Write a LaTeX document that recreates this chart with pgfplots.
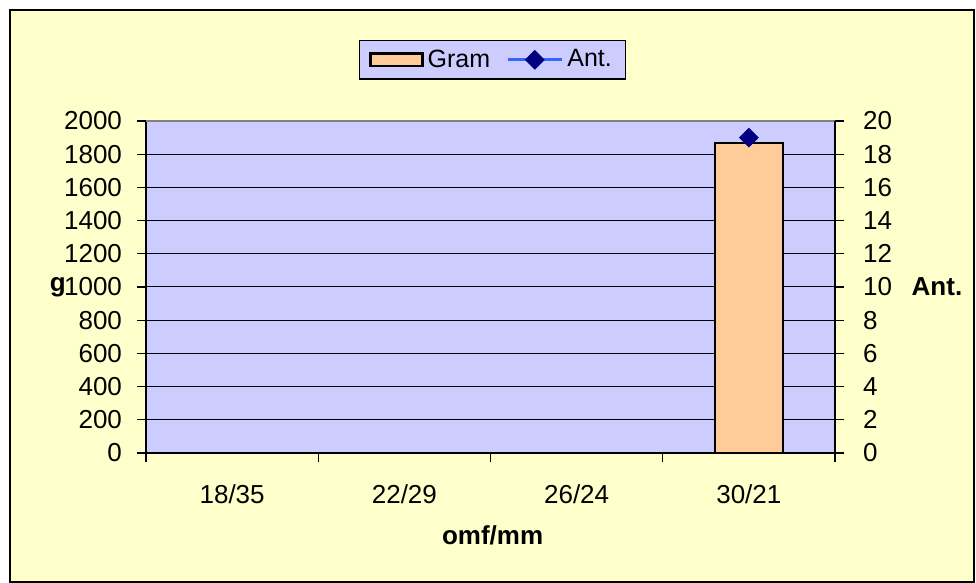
\documentclass[border=0pt]{standalone}
\usepackage{pgfplots}
\pgfplotsset{compat=1.18}
\usepackage{fontspec}
\setmainfont{Liberation Sans}
\definecolor{bgyel}{HTML}{FFFFCC}
\definecolor{plotbg}{HTML}{CCCCFF}
\definecolor{barfill}{HTML}{FFCC99}
\definecolor{navyc}{HTML}{000080}
\definecolor{lineblue}{HTML}{3366FF}
\pgfplotsset{
  barleg/.style={legend image code/.code={\draw[##1] (0pt,-3.2pt) rectangle (26pt,3.2pt);}},
  lineleg/.style={legend image code/.code={%
    \draw[lineblue, line width=1.6pt] (0pt,0pt) -- (27pt,0pt);
    \draw[##1, line width=0.4pt] plot coordinates {(13.5pt,0pt)};}},
}
\begin{document}
\begin{tikzpicture}
\fill[white] (0pt,0pt) rectangle (488pt,291.5pt);
\draw[fill=bgyel, line width=1pt] (5pt,0.5pt) rectangle (487pt,286.5pt);
\pgfplotsset{
  common/.style={
    at={(73pt,65pt)}, anchor=south west, scale only axis,
    width=344.5pt, height=166pt,
    xmin=-0.5, xmax=3.5,
    tick align=outside,
    major tick length=4.5pt,
    tick style={black, line width=0.6pt},
    /pgf/number format/assume math mode=true,
    /pgf/number format/1000 sep={},
    tick label style={font=\fontsize{13}{15}\selectfont},
    label style={font=\fontsize{13}{15}\selectfont\bfseries},
  }
}
\begin{axis}[common,
  name=main,
  ymin=0, ymax=2000, ytick={0,200,...,2000},
  yticklabel style={xshift=-4pt},
  xtick={-0.5,0.5,1.5,2.5,3.5},
  xticklabels={18/35,22/29,26/24,30/21},
  x tick label as interval,
  xticklabel style={yshift=-8pt},
  xlabel={omf/mm},
  xlabel style={at={(axis description cs:0.503,-0.247)}, anchor=center},
  ylabel={g},
  ylabel style={at={(axis description cs:-0.128,0.5)}, anchor=center, rotate=-90},
  axis background/.style={fill=plotbg},
  ymajorgrids, grid style={black, line width=0.5pt},
  axis x line*=bottom, axis y line*=left,
  axis line style={black, line width=0.8pt},
  ybar, bar width=34pt,
]
\addplot[fill=barfill, draw=black, line width=1.2pt] coordinates {(3,1867)};
\draw[gray, line width=0.8pt] (rel axis cs:0,1) -- (rel axis cs:1,1);
\end{axis}
\begin{axis}[common,
  ymin=0, ymax=20, ytick={0,2,...,20},
  yticklabel style={xshift=6pt},
  axis x line=none, axis y line*=right,
  axis line style={black, line width=0.8pt},
  ylabel={Ant.},
  ylabel style={at={(axis description cs:1.148,0.5)}, anchor=center, rotate=-90},
  legend style={at={(axis description cs:0.503,1.244)}, anchor=north,
    fill=plotbg, draw=black, line width=0.6pt, legend columns=2,
    font=\fontsize{12.5}{14}\selectfont,
    inner xsep=5pt, inner ysep=2.5pt,
    /tikz/every even column/.append style={column sep=6pt}},
]
\addlegendimage{barleg, fill=barfill, draw=black, line width=1.2pt}
\addlegendentry{Gram}
\addplot[lineleg, lineblue, line width=1.6pt, mark=square*, mark size=3.3pt,
  mark options={rotate=45, fill=navyc, draw=navyc, solid, line width=0.4pt}]
  coordinates {(3,19)};
\addlegendentry{Ant.}
\end{axis}
\end{tikzpicture}
\end{document}
